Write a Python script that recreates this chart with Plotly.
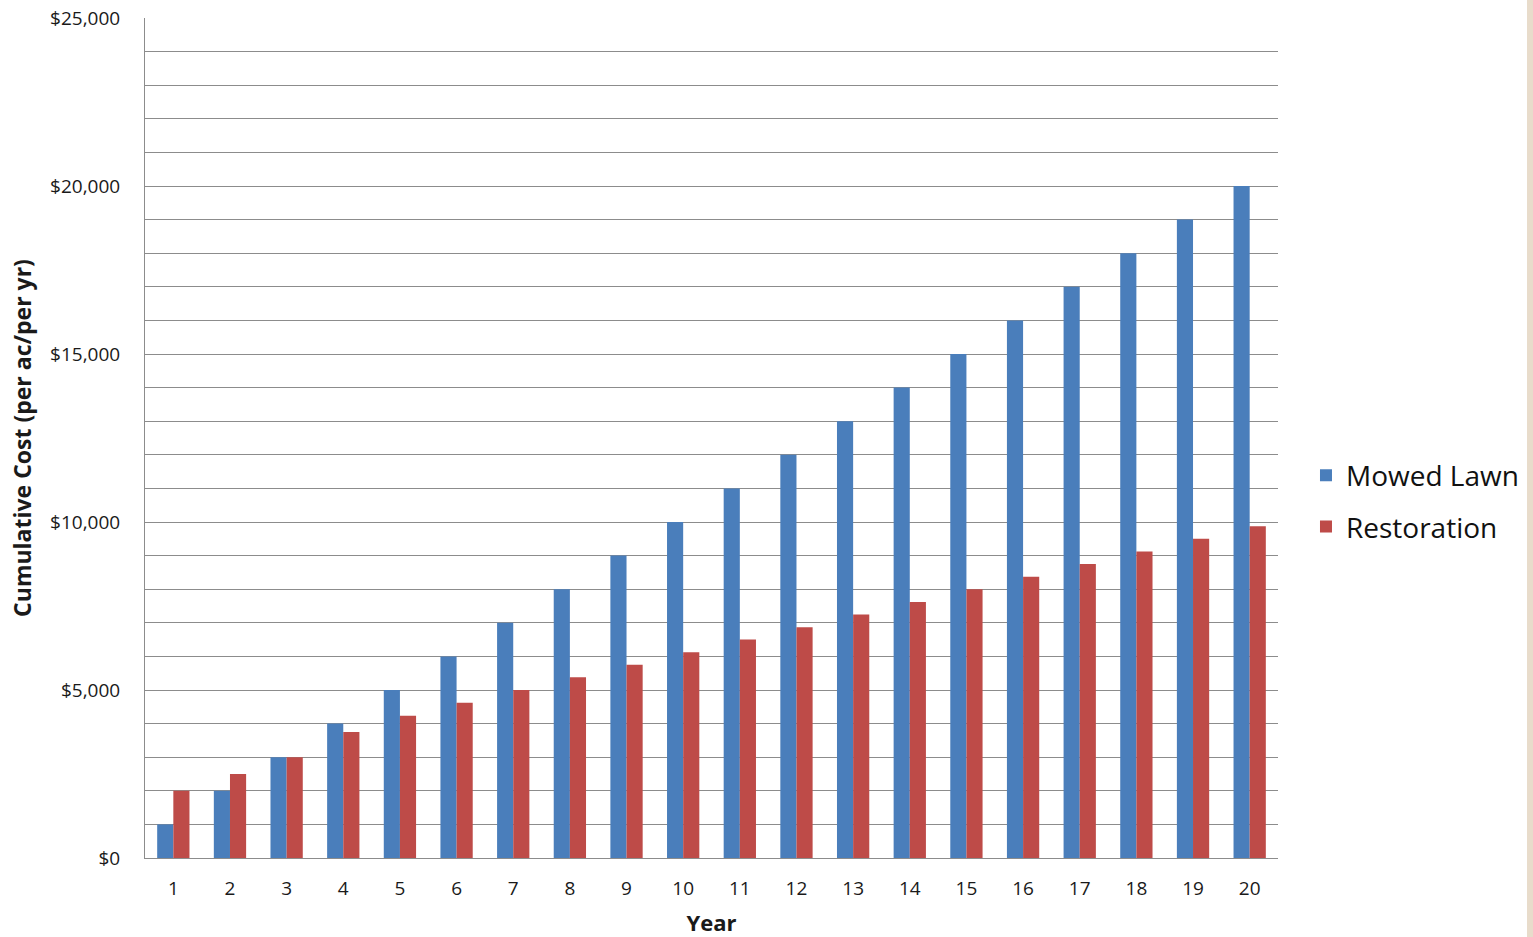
import plotly.graph_objects as go

years = [str(i) for i in range(1, 21)]
mowed_lawn = [1000, 2000, 3000, 4000, 5000, 6000, 7000, 8000, 9000, 10000,
              11000, 12000, 13000, 14000, 15000, 16000, 17000, 18000, 19000, 20000]
restoration = [2000, 2500, 3000, 3750, 4230, 4620, 5000, 5380, 5750, 6120,
               6500, 6870, 7250, 7620, 8000, 8370, 8750, 9120, 9500, 9870]

BLUE = "#4A7EBB"
RED = "#BE4B48"
GRID = "#8C8C8C"
FONT = "Open Sans"

fig = go.Figure()
fig.add_trace(go.Bar(x=years, y=mowed_lawn, name="Mowed Lawn",
                     marker=dict(color=BLUE, line=dict(width=0)), legendgroup="a"))
fig.add_trace(go.Bar(x=years, y=restoration, name="Restoration",
                     marker=dict(color=RED, line=dict(width=0)), legendgroup="b"))

fig.update_layout(
    width=1533, height=937,
    margin=dict(l=145, r=255, t=18, b=79, autoexpand=False),
    paper_bgcolor="white", plot_bgcolor="white",
    barmode="group", bargap=0.43, bargroupgap=0,
    font=dict(family=FONT, color="#1a1a1a"),
    legend=dict(x=1.0247, y=0.425, xanchor="left", yanchor="middle",
                font=dict(size=28, family=FONT, color="#111"),
                traceorder="grouped", tracegroupgap=12,
                itemwidth=30, bgcolor="rgba(0,0,0,0)"),
    xaxis=dict(
        showline=True, linecolor=GRID, linewidth=1,
        showgrid=False, ticks="", ticklabelstandoff=13,
        tickfont=dict(size=19, family=FONT, color="#1a1a1a"),
        title=dict(text="<b>Year</b>", font=dict(size=22, family=FONT, color="#1a1a1a"), standoff=16),
    ),
    yaxis=dict(
        range=[0, 25000], dtick=5000, tickprefix="$", tickformat=",",
        showline=True, linecolor=GRID, linewidth=1,
        showgrid=True, gridcolor=GRID, gridwidth=1,
        minor=dict(dtick=1000, showgrid=True, gridcolor=GRID, gridwidth=1),
        ticks="", ticklabelstandoff=20, zeroline=False,
        ticklabeloverflow="allow",
        tickfont=dict(size=19, family=FONT, color="#1a1a1a"),
        title=dict(text="<b>Cumulative Cost (per ac/per yr)</b>",
                   font=dict(size=23, family=FONT, color="#1a1a1a"), standoff=12),
    ),
    shapes=[dict(type="rect", xref="paper", yref="paper",
                 x0=(1527 - 145) / 1133, x1=1.4, y0=-0.2, y1=1.1,
                 fillcolor="#E8DCCB", line=dict(width=0), layer="below")],
)

fig.write_html("out.html", config={"displayModeBar": False},
               post_script="document.body.style.margin='0';document.body.style.overflow='hidden';")
